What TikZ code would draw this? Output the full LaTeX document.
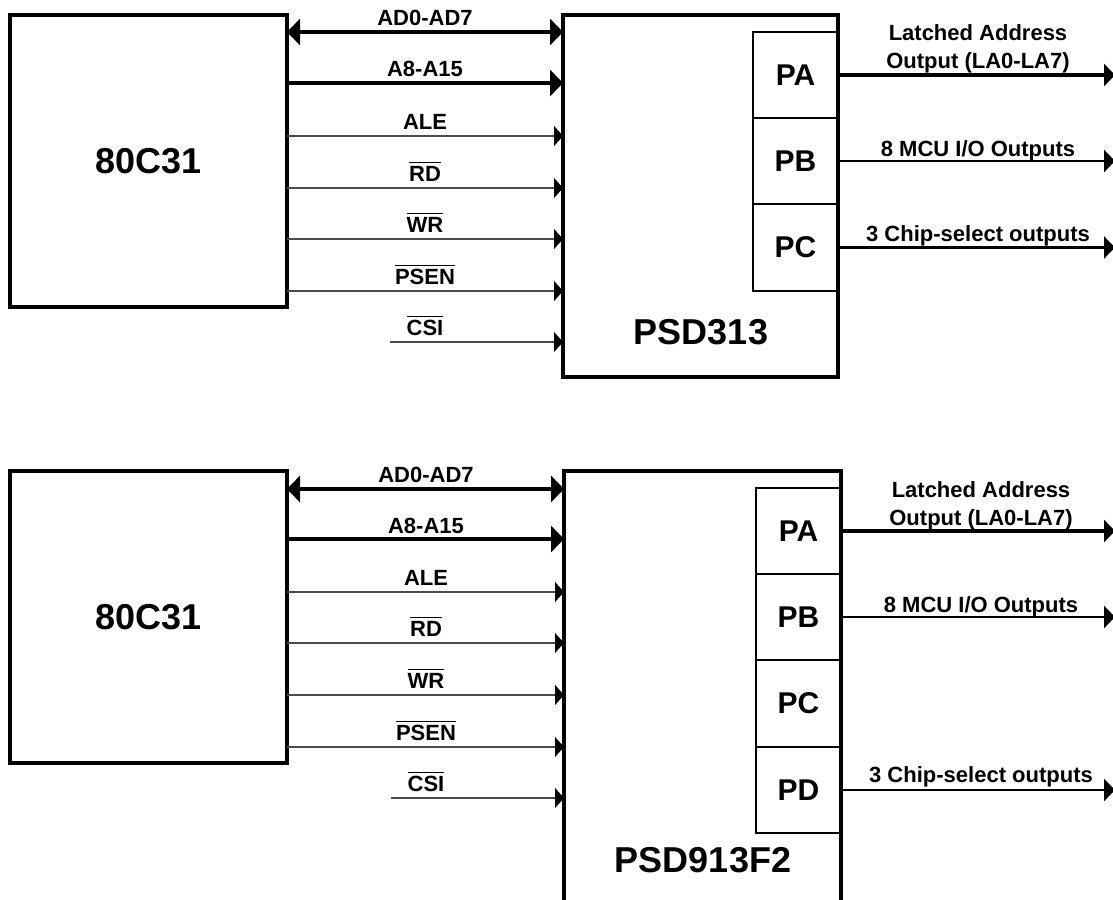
\documentclass[tikz,border=0pt]{standalone}
\usepackage{fontspec}
\setmainfont{Liberation Sans}
\usetikzlibrary{arrows.meta}
\newcommand\barred[1]{\leavevmode\setbox0\hbox{#1}\rlap{\raisebox{\dimexpr\ht0+2.6pt\relax}{\rule{\wd0}{1.4pt}}}\box0}
\begin{document}
\begin{tikzpicture}[x=1pt,y=-1pt,
  chip/.style={draw, line width=4pt, inner sep=0pt, outer sep=0pt, anchor=north west, font=\fontsize{36}{36}\selectfont\bfseries},
  port/.style={draw, line width=2.2pt, inner sep=0pt, outer sep=0pt, anchor=north west, minimum width=85pt, font=\fontsize{30}{30}\selectfont\bfseries},
  chipname/.style={font=\fontsize{36}{36}\selectfont\bfseries, inner sep=0pt},
  lbl/.style={font=\fontsize{22}{22}\selectfont\bfseries, inner sep=0pt, anchor=base},
  bus/.style={line width=4pt},
  sig/.style={line width=1.3pt, draw=black!70},
  bigtip/.style={-{Triangle[length=13pt,width=26pt]}},
  bothtip/.style={{Triangle[length=13pt,width=26pt]}-{Triangle[length=13pt,width=26pt]}},
  smalltip/.style={-{Triangle[length=9pt,width=20pt,color=black]}},
  outtip/.style={-{Triangle[length=11pt,width=22pt]}},
  outline/.style={line width=2.6pt}
]
\useasboundingbox (0,0) rectangle (1113,899);
\clip (0,0) rectangle (1113,899);
\coordinate (edge) at (1115,0);

% ===================== TOP =====================
\node[chip, minimum width=277pt, minimum height=292pt] (mcuA) at (10,15) {80C31};
\node[chip, minimum width=275pt, minimum height=362pt] (psdA) at (563,15) {};
\node[chipname] (nA) at (701,332) {PSD313};
\node[port, minimum height=86pt] (paA) at (753,32) {PA};
\node[port, minimum height=86pt] (pbA) at (753,118) {PB};
\node[port, minimum height=87pt] (pcA) at (753,204) {PC};

\coordinate (a1) at (0,32);
\coordinate (a2) at (0,83);
\coordinate (a3) at (0,136);
\coordinate (a4) at (0,188);
\coordinate (a5) at (0,239);
\coordinate (a6) at (0,291);
\coordinate (csiA) at (390,342);

\draw[bus, bothtip] (mcuA.east |- a1) -- (psdA.west |- a1);
\draw[bus, bigtip] (mcuA.east |- a2) -- (psdA.west |- a2);
\draw[sig, smalltip] (mcuA.east |- a3) -- (psdA.west |- a3);
\draw[sig, smalltip] (mcuA.east |- a4) -- (psdA.west |- a4);
\draw[sig, smalltip] (mcuA.east |- a5) -- (psdA.west |- a5);
\draw[sig, smalltip] (mcuA.east |- a6) -- (psdA.west |- a6);
\draw[sig, smalltip] (csiA) -- (psdA.west |- csiA);

\node[lbl] (lA1) at (425,26) {AD0-AD7};
\node[lbl] (lA2) at (425,77) {A8-A15};
\node[lbl] (lA3) at (425,129) {ALE};
\node[lbl] (lA4) at (425,181) {\barred{RD}};
\node[lbl] (lA5) at (425,232) {\barred{WR}};
\node[lbl] (lA6) at (425,284) {\barred{PSEN}};
\node[lbl] (lA7) at (425,335) {\barred{CSI}};

\draw[bus, outtip] (paA.east) -- (paA.east -| edge);
\draw[outline, outtip] (pbA.east) -- (pbA.east -| edge);
\draw[outline, outtip] (pcA.east) -- (pcA.east -| edge);
\node[lbl] (oA1) at (978,41) {Latched Address};
\node[lbl] (oA2) at (978,69) {Output (LA0-LA7)};
\node[lbl] (oA3) at (978,156) {8 MCU I/O Outputs};
\node[lbl] (oA4) at (978,241) {3 Chip-select outputs};

% ===================== BOTTOM =====================
\node[chip, minimum width=277pt, minimum height=292pt] (mcuB) at (10,471) {80C31};
\node[chip, minimum width=277pt, minimum height=470pt] (psdB) at (564,471) {};
\node[chipname] (nB) at (703,860) {PSD913F2};
\node[port, minimum height=86pt] (paB) at (756,488) {PA};
\node[port, minimum height=86pt] (pbB) at (756,574) {PB};
\node[port, minimum height=87pt] (pcB) at (756,660) {PC};
\node[port, minimum height=86pt] (pdB) at (756,747) {PD};

\coordinate (b1) at (0,489);
\coordinate (b2) at (0,539);
\coordinate (b3) at (0,592);
\coordinate (b4) at (0,643);
\coordinate (b5) at (0,695);
\coordinate (b6) at (0,747);
\coordinate (csiB) at (391,798);

\draw[bus, bothtip] (mcuB.east |- b1) -- (psdB.west |- b1);
\draw[bus, bigtip] (mcuB.east |- b2) -- (psdB.west |- b2);
\draw[sig, smalltip] (mcuB.east |- b3) -- (psdB.west |- b3);
\draw[sig, smalltip] (mcuB.east |- b4) -- (psdB.west |- b4);
\draw[sig, smalltip] (mcuB.east |- b5) -- (psdB.west |- b5);
\draw[sig, smalltip] (mcuB.east |- b6) -- (psdB.west |- b6);
\draw[sig, smalltip] (csiB) -- (psdB.west |- csiB);

\node[lbl] (lB1) at (426,482) {AD0-AD7};
\node[lbl] (lB2) at (426,533) {A8-A15};
\node[lbl] (lB3) at (426,585) {ALE};
\node[lbl] (lB4) at (426,636) {\barred{RD}};
\node[lbl] (lB5) at (426,688) {\barred{WR}};
\node[lbl] (lB6) at (426,740) {\barred{PSEN}};
\node[lbl] (lB7) at (426,791) {\barred{CSI}};

\draw[bus, outtip] (paB.east) -- (paB.east -| edge);
\draw[outline, outtip] (pbB.east) -- (pbB.east -| edge);
\draw[outline, outtip] (pdB.east) -- (pdB.east -| edge);
\node[lbl] (oB1) at (981,497) {Latched Address};
\node[lbl] (oB2) at (981,525) {Output (LA0-LA7)};
\node[lbl] (oB3) at (981,612) {8 MCU I/O Outputs};
\node[lbl] (oB4) at (981,782) {3 Chip-select outputs};
\end{tikzpicture}
\end{document}
